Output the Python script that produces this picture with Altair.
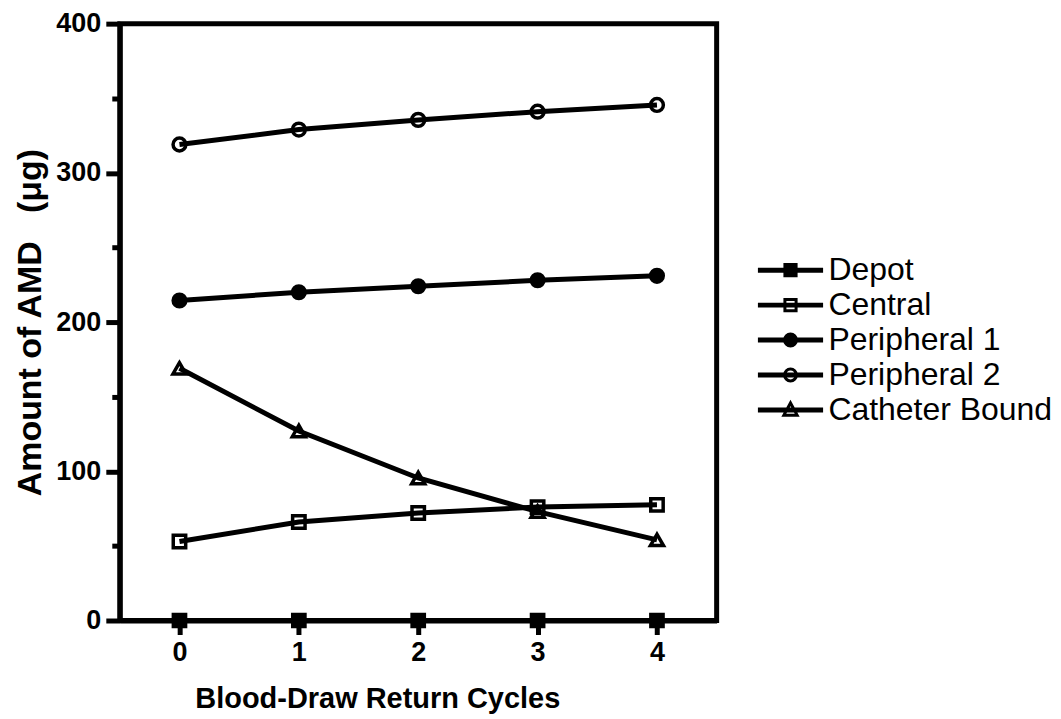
import altair as alt
import pandas as pd

# ---- data ----
cycles = [0, 1, 2, 3, 4]
series_names = ["Depot", "Central", "Peripheral 1", "Peripheral 2", "Catheter Bound"]
depot = [0, 0, 0, 0, 0]
central = [53, 66, 72, 76, 77.5]
peripheral1 = [214.5, 220, 224, 228, 231]
peripheral2 = [319, 329, 335.5, 341, 345.5]
catheter = [169, 127, 95.5, 73, 54]

y_tick_values = [0, 50, 100, 150, 200, 250, 300, 350, 400]
x_tick_values = [0, 1, 2, 3, 4]

# ---- styles ----
plot_shapes = ["square", "square", "circle", "circle", "triangle-up"]
marker_fills = ["black", "transparent", "black", "transparent", "transparent"]
marker_strokes = ["black", "black", "black", "black", "black"]
marker_sizes = [150, 170, 160, 180, 420]

# legend symbols: a line segment with the marker on it (custom SVG paths, same winding)
LINE = "M-4.45,-0.14L4.45,-0.14L4.45,0.14L-4.45,0.14Z"
SQ = "M-0.8,-0.8L0.8,-0.8L0.8,0.8L-0.8,0.8Z"
CI = ("M0.85,0C0.85,0.469,0.469,0.85,0,0.85C-0.469,0.85,-0.85,0.469,-0.85,0"
      "C-0.85,-0.469,-0.469,-0.85,0,-0.85C0.469,-0.85,0.85,-0.469,0.85,0Z")
TR = "M0,-1.0L0.95,0.75L-0.95,0.75Z"
legend_shapes = [LINE + SQ, LINE + SQ, LINE + CI, LINE + CI, LINE + TR]

values = [depot, central, peripheral1, peripheral2, catheter]
rows = []
for name, vals in zip(series_names, values):
    for c, v in zip(cycles, vals):
        rows.append({"cycle": c, "amount": v, "series": name})
df = pd.DataFrame(rows)

FONT = "Arial"
NB = "\u00a0"

x_enc = alt.X(
    "cycle:Q",
    scale=alt.Scale(domain=[-0.5, 4.5], nice=False, zero=False),
    axis=alt.Axis(
        values=x_tick_values,
        title="Blood-Draw Return Cycles",
        tickSize=14,
        labelPadding=5,
        titlePadding=19,
        titleX=258,
        titleAlign="center",
        labelFontSize=27,
        titleFontSize=29,
    ),
)
y_enc = alt.Y(
    "amount:Q",
    scale=alt.Scale(domain=[0, 400], nice=False),
    axis=alt.Axis(
        values=y_tick_values,
        title="Amount of AMD" + NB + NB + NB + "(μg)",
        labelExpr="datum.value % 100 === 0 ? datum.label : ''",
        tickSize={"condition": {"test": "datum.value % 100 === 0", "value": 14}, "value": 8},
        labelPadding=5,
        titlePadding=8,
        labelFontSize=27,
        titleFontSize=34,
    ),
)

base = alt.Chart(df)

lines = base.mark_line(color="black", strokeWidth=5).encode(
    x=x_enc, y=y_enc, detail="series:N", order="cycle:Q"
)

points = base.mark_point(filled=True, stroke="black", strokeWidth=3.5, opacity=1).encode(
    x=x_enc,
    y=y_enc,
    shape=alt.Shape("series:N", scale=alt.Scale(domain=series_names, range=plot_shapes), legend=None),
    fill=alt.Fill("series:N", scale=alt.Scale(domain=series_names, range=marker_fills), legend=None),
    size=alt.Size("series:O", scale=alt.Scale(domain=series_names, range=marker_sizes), legend=None),
)

leg = alt.Legend(
    title=None,
    orient="none",
    legendX=656,
    legendY=231,
    padding=0,
    symbolSize=196,
    symbolStrokeWidth=3,
    symbolStrokeColor="black",
    symbolOpacity=1,
    labelFontSize=32,
    labelFont=FONT,
    labelColor="black",
    labelOffset=22,
    labelLimit=400,
    rowPadding=3,
)

legend_layer = base.transform_filter("false").mark_point(
    filled=True, strokeWidth=3, opacity=1
).encode(
    x=x_enc,
    y=y_enc,
    shape=alt.Shape("series:N", scale=alt.Scale(domain=series_names, range=legend_shapes), legend=leg),
    fill=alt.Fill("series:N", scale=alt.Scale(domain=series_names, range=marker_fills), legend=leg),
    stroke=alt.Stroke("series:N", scale=alt.Scale(domain=series_names, range=marker_strokes), legend=leg),
)

chart = (
    alt.layer(lines, points, legend_layer)
    .resolve_scale(shape="independent", fill="independent", size="independent", stroke="independent")
    .properties(width=598, height=598, padding={"left": 5, "top": 1, "right": 0, "bottom": 0})
    .configure_view(stroke="black", strokeWidth=5)
    .configure_axis(
        grid=False,
        domainColor="black",
        domainWidth=5,
        tickColor="black",
        tickWidth=5,
        labelColor="black",
        titleColor="black",
        labelFont=FONT,
        titleFont=FONT,
        labelFontWeight="bold",
        titleFontWeight="bold",
    )
    .configure_legend(labelFont=FONT)
)

chart.save("out.html", embed_options={"renderer": "svg", "actions": False})
